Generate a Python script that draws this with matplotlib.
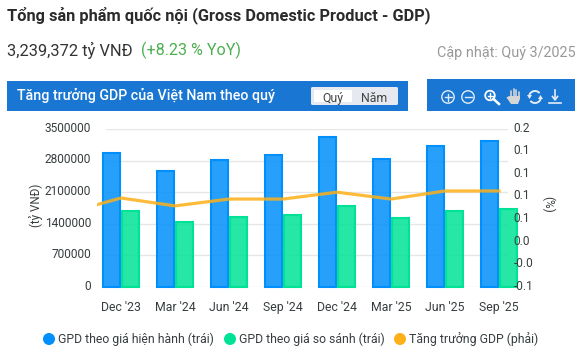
import numpy as np
import matplotlib
matplotlib.use("Agg")
import matplotlib.pyplot as plt
from matplotlib.patches import Rectangle, Circle, FancyBboxPatch, Arc, Polygon
from matplotlib.transforms import ScaledTranslation

categories = ["Dec '23", "Mar '24", "Jun '24", "Sep '24", "Dec '24", "Mar '25", "Jun '25", "Sep '25"]
gdp_current = [2975000, 2570000, 2805000, 2925000, 3330000, 2843000, 3130000, 3239372]
gdp_constant = [1677000, 1433000, 1544000, 1595000, 1800000, 1528000, 1677000, 1720000]
# first growth value belongs to the quarter before Dec '23, mostly clipped away in the reference
growth = [0.0405, 0.069, 0.054, 0.067, 0.067, 0.080, 0.067, 0.0823, 0.0823]
left_ticks = [0, 700000, 1400000, 2100000, 2800000, 3500000]
right_labels = ["-0.1", "-0.0", "0.0", "0.1", "0.1", "0.1", "0.1", "0.2"]
legend_labels = ["GPD theo giá hiện hành (trái)", "GPD theo giá so sánh (trái)", "Tăng trưởng GDP (phải)"]

BLUE = "#008FFB"
GREEN = "#00E396"
ORANGE = "#FEB019"
BANNER = "#1976D2"
TXT = "#373D3F"
W, H = 584, 361

plt.rcParams["font.family"] = ["Roboto", "DejaVu Sans"]

fig = plt.figure(figsize=(W / 100, H / 100), dpi=100)

# page axes in pixels for header, banners, legend
page = fig.add_axes([0, 0, 1, 1], zorder=0)
page.set_xlim(0, W)
page.set_ylim(H, 0)
page.axis("off")

page.text(7, 15, "Tổng sản phẩm quốc nội (Gross Domestic Product - GDP)", fontsize=11.8,
          fontweight="bold", color="#2b2b2b", va="center")
page.text(7, 50, "3,239,372 tỷ VNĐ", fontsize=11.75, color="#333333", va="center")
page.text(141, 50, "(+8.23 % YoY)", fontsize=11.6, color="#4CAF50", va="center")
page.text(576, 53, "Cập nhật: Quý 3/2025", fontsize=10.4, color="#999999", va="center", ha="right")

page.add_patch(Rectangle((7, 81), 401, 30, color=BANNER, lw=0))
page.add_patch(Rectangle((427, 79), 148, 32, color=BANNER, lw=0))
page.text(17, 95, "Tăng trưởng GDP của Việt Nam theo quý", fontsize=10.3, fontweight="medium",
          color="white", va="center")
page.add_patch(FancyBboxPatch((311, 87), 87, 18, boxstyle="round,pad=0,rounding_size=1.5",
                              fc="#E6E9EF", ec="none"))
page.add_patch(Rectangle((314, 90), 38, 12, color="white", lw=0))
page.text(333, 98.5, "Quý", fontsize=8.8, color="#444444", ha="center", va="center")
page.text(374, 98.5, "Năm", fontsize=8.8, color="#444444", ha="center", va="center")

# toolbar icons
ic = "#E3ECF6"
for cx in [448, 468]:
    page.add_patch(Circle((cx, 97), 6.2, fc="none", ec=ic, lw=1))
    page.plot([cx - 3.5, cx + 3.5], [97, 97], color=ic, lw=1)
page.plot([448, 448], [93.5, 100.5], color=ic, lw=1)
page.add_patch(Circle((490, 95.5), 4.8, fc="none", ec="white", lw=1.3))
page.plot([490, 490], [93, 98], color="white", lw=1)
page.plot([487.5, 492.5], [95.5, 95.5], color="white", lw=1)
page.plot([493.5, 499], [99, 104], color="white", lw=1.8)
# hand
page.add_patch(Polygon([(510, 96), (520, 96), (520, 99), (518, 104), (511, 104), (506.5, 97.5), (508, 96.5)],
                       fc="#D6D6D6", ec="none"))
for fx, ft in zip([511, 513.5, 516, 518.7], [91, 89, 89.5, 91.5]):
    page.plot([fx, fx], [ft, 98], color="#D6D6D6", lw=1.2, solid_capstyle="round")
page.add_patch(Arc((535, 97), 12, 12, theta1=190, theta2=320, color=ic, lw=1.4))
page.add_patch(Arc((535, 97), 12, 12, theta1=10, theta2=140, color=ic, lw=1.4))
page.add_patch(Polygon([(527, 95), (532, 95), (529.5, 99)], fc=ic, ec="none"))
page.add_patch(Polygon([(538, 99), (543, 99), (540.5, 95)], fc=ic, ec="none"))
page.plot([555, 555], [90, 99], color=ic, lw=1.2)
page.plot([552.5, 555, 557.5], [96.5, 100, 96.5], color=ic, lw=1.2)
page.plot([549, 561], [103, 103], color=ic, lw=1.2)

# chart, plot area 105.7..508 x 129..287 px
ax = fig.add_axes([105.7 / W, 1 - 287 / H, (508 - 105.7) / W, (287 - 129) / H], zorder=1)
ax.patch.set_alpha(0)
x = np.arange(len(categories))
ax.bar(x - 0.174, gdp_current, 0.31, facecolor=matplotlib.colors.to_rgba(BLUE, 0.85), edgecolor=BLUE,
       linewidth=1.5, clip_on=False, zorder=3)
ax.bar(x + 0.174, gdp_constant, 0.31, facecolor=matplotlib.colors.to_rgba(GREEN, 0.85), edgecolor=GREEN,
       linewidth=1.5, clip_on=False, zorder=3)
ax.set_xlim(-0.283, 7.167)
ax.set_ylim(0, 3500000)
ax.set_yticks(left_ticks)
ax.set_yticklabels([str(v) for v in left_ticks], fontsize=8.6, color=TXT)
ax.set_xticks(x)
ax.set_xticklabels(categories, fontsize=8.8, color=TXT)
ax.tick_params(length=0, pad=10.6, axis="y")
ax.tick_params(length=0, pad=10, axis="x")
ax.grid(axis="y", color="#E6E6E6", lw=1)
ax.set_axisbelow(True)
for s in ax.spines.values():
    s.set_visible(False)

ax2 = ax.twinx()
ax2.set_ylim(-0.1, 0.2)
ax2.set_yticks(np.linspace(-0.1, 0.2, len(right_labels)))
ax2.set_yticklabels(right_labels, fontsize=8.6, color=TXT)
ax2.tick_params(length=0, pad=4)
for s in ax2.spines.values():
    s.set_visible(False)
line, = ax2.plot(np.arange(-1, len(categories)), growth, color=ORANGE, lw=2.3, alpha=0.85,
                 clip_on=True, solid_joinstyle="round")
clip = Rectangle((97, 100), 405, 200, transform=page.transData)
line.set_clip_path(clip)

# y tick labels sit a little above their gridlines
up = ScaledTranslation(0, 1.6 / 72, fig.dpi_scale_trans)
for lab in ax.get_yticklabels() + ax2.get_yticklabels():
    lab.set_transform(lab.get_transform() + up)

page.text(36, 205, "(tỷ VNĐ)", rotation=90, fontsize=8.3, color=TXT, ha="center", va="center")
page.text(548, 204, "(%)", rotation=-90, fontsize=8.5, color=TXT, ha="center", va="center")

# legend
for cx, tx, c, lab in zip([49, 230, 400], [58, 239, 409], [BLUE, GREEN, ORANGE], legend_labels):
    page.add_patch(Circle((cx, 339), 6, fc=c, ec="none"))
    page.text(tx, 339, lab, fontsize=8.8, color=TXT, va="center")

fig.savefig("out.png", dpi=100)
